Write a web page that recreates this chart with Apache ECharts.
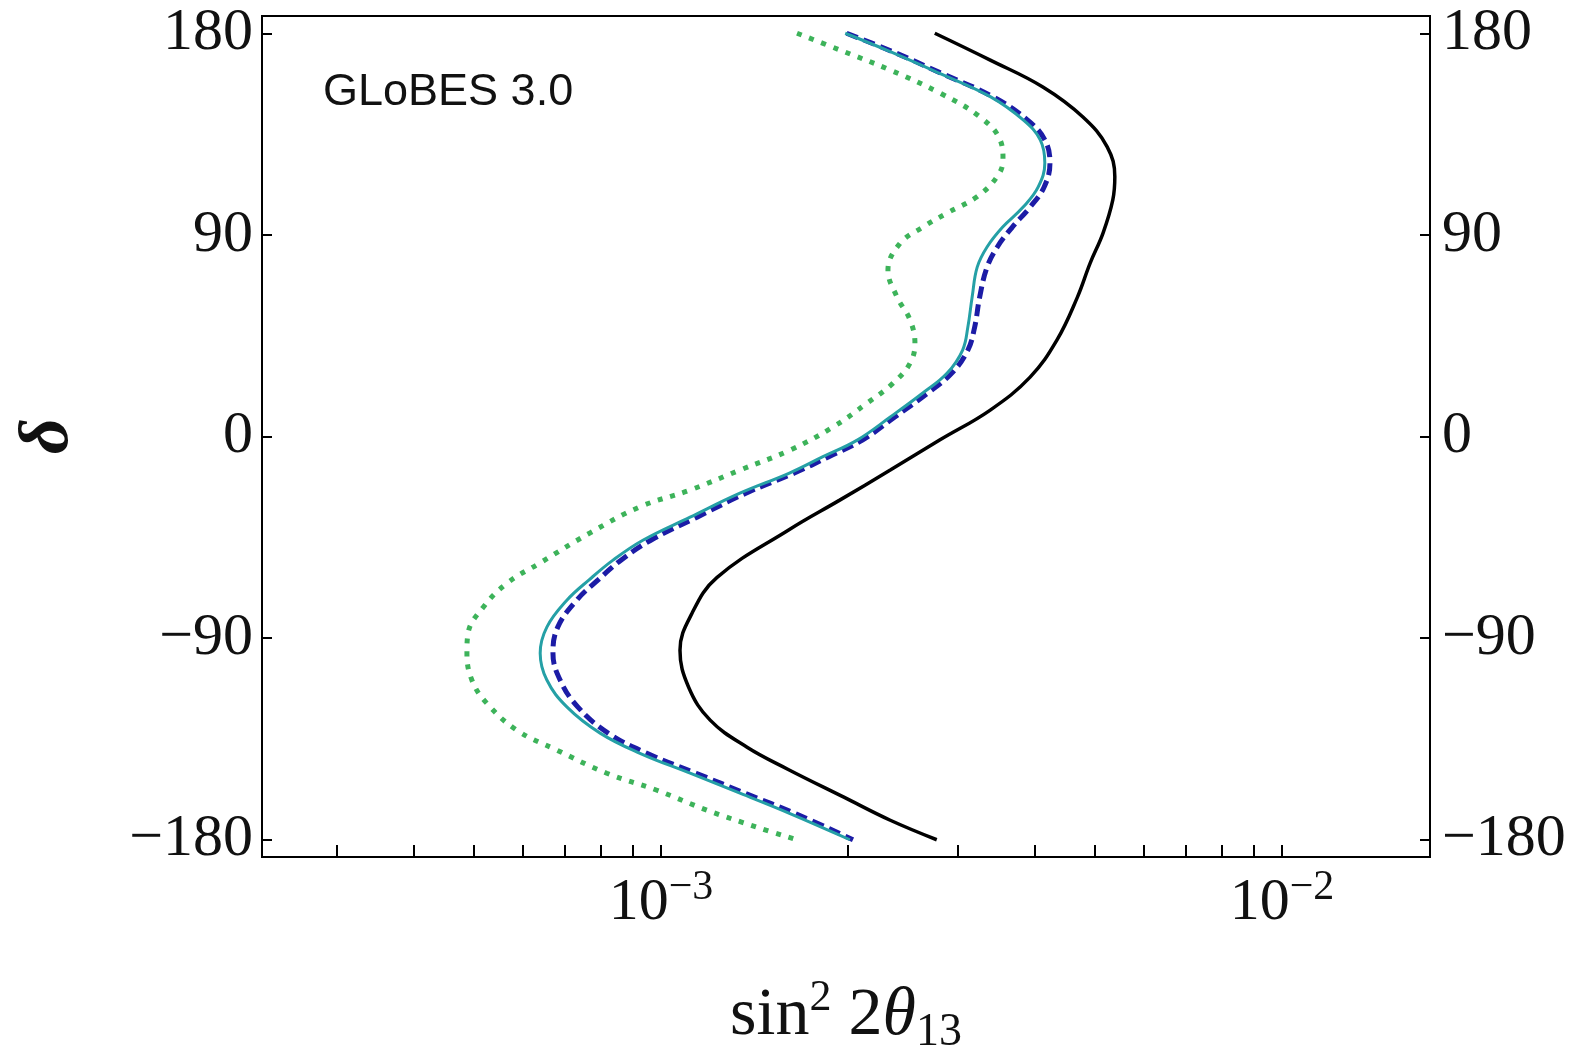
<!DOCTYPE html>
<html>
<head>
<meta charset="utf-8">
<script src="https://cdn.jsdelivr.net/npm/echarts@6/dist/echarts.min.js"></script>
<style>
  html, body { margin: 0; padding: 0; background: #fff; }
  #chart { width: 1584px; height: 1050px; }
</style>
</head>
<body>
<div id="chart"></div>
<script>
// CP-phase delta (degrees) versus sin^2(2 theta13) sensitivity curves
const deltaBlack = [180, 168, 156, 142.6, 129.3, 115.9, 105.6, 90.8, 77.4, 62, 43, 26.5, 11.8, -1.6, -15, -28.4, -41.5, -63, -78.9, -95.4, -111.9, -126.6, -138.7, -148.5, -161, -171.3, -180];
const s2tBlack = [2.76e-3, 3.39e-3, 4.12e-3, 4.78e-3, 5.23e-3, 5.38e-3, 5.34e-3, 5.15e-3, 4.91e-3, 4.68e-3, 4.34e-3, 3.93e-3, 3.39e-3, 2.81e-3, 2.34e-3, 1.94e-3, 1.61e-3, 1.23e-3, 1.122e-3, 1.073e-3, 1.108e-3, 1.20e-3, 1.376e-3, 1.60e-3, 1.97e-3, 2.34e-3, 2.78e-3];

const deltaTeal = [180, 171.8, 162.1, 151.7, 141.3, 132.4, 122.1, 111.4, 102.4, 93.5, 84.6, 75.6, 62.3, 48.9, 38.6, 28.3, 19.4, 8.7, -1.6, -9.1, -16.3, -25.3, -36, -46.3, -55.2, -64, -73, -85.1, -96.7, -108.7, -120.8, -132.4, -141.4, -150.3, -159.2, -168.2, -180];
const s2tTeal = [1.98e-3, 2.34e-3, 2.81e-3, 3.39e-3, 3.83e-3, 4.08e-3, 4.15e-3, 4.05e-3, 3.83e-3, 3.55e-3, 3.35e-3, 3.23e-3, 3.17e-3, 3.12e-3, 3.06e-3, 2.89e-3, 2.64e-3, 2.34e-3, 2.07e-3, 1.82e-3, 1.61e-3, 1.34e-3, 1.114e-3, 0.935e-3, 0.837e-3, 0.766e-3, 0.706e-3, 0.655e-3, 0.639e-3, 0.655e-3, 0.706e-3, 0.798e-3, 0.925e-3, 1.114e-3, 1.34e-3, 1.61e-3, 2.015e-3];

const deltaBlue = deltaTeal;
const s2tBlue = [1.99e-3, 2.36e-3, 2.83e-3, 3.42e-3, 3.89e-3, 4.15e-3, 4.23e-3, 4.14e-3, 3.93e-3, 3.68e-3, 3.48e-3, 3.35e-3, 3.26e-3, 3.20e-3, 3.12e-3, 2.94e-3, 2.69e-3, 2.38e-3, 2.11e-3, 1.86e-3, 1.64e-3, 1.37e-3, 1.143e-3, 0.963e-3, 0.862e-3, 0.792e-3, 0.732e-3, 0.682e-3, 0.670e-3, 0.688e-3, 0.735e-3, 0.822e-3, 0.949e-3, 1.139e-3, 1.365e-3, 1.643e-3, 2.038e-3];

const deltaGreen = [180, 172.5, 163.6, 153.3, 142.6, 132.4, 123.5, 115.9, 107, 99.7, 93.5, 86.2, 74.3, 62.3, 52, 41.6, 32.7, 23.8, 14.9, 4.2, -6.1, -15, -23.9, -31.4, -43, -56.4, -65.5, -76.3, -87.9, -96.7, -108.7, -119, -131.1, -140, -150.3, -157.9, -166.8, -174.4, -180];
const s2tGreen = [1.656e-3, 1.942e-3, 2.338e-3, 2.813e-3, 3.264e-3, 3.516e-3, 3.554e-3, 3.476e-3, 3.227e-3, 2.887e-3, 2.642e-3, 2.426e-3, 2.320e-3, 2.399e-3, 2.518e-3, 2.564e-3, 2.518e-3, 2.364e-3, 2.147e-3, 1.892e-3, 1.613e-3, 1.340e-3, 1.114e-3, 0.925e-3, 0.769e-3, 0.639e-3, 0.565e-3, 0.517e-3, 0.489e-3, 0.487e-3, 0.496e-3, 0.524e-3, 0.586e-3, 0.680e-3, 0.818e-3, 0.985e-3, 1.186e-3, 1.428e-3, 1.656e-3];

// axis ranges and ticks
const xMin = 2.278e-4, xMax = 1.731e-2;
const yMin = -187.7, yMax = 187.7;
const deltaTicks = [-180, -90, 0, 90, 180];
const xMajorTicks = [1e-3, 1e-2];
const xAllTicks = [3e-4, 4e-4, 5e-4, 6e-4, 7e-4, 8e-4, 9e-4, 1e-3, 2e-3, 3e-3, 4e-3, 5e-3, 6e-3, 7e-3, 8e-3, 9e-3, 1e-2];

const serif = '"Liberation Serif", "DejaVu Serif", serif';
const pair = (xs, ys) => xs.map((x, i) => [x, ys[i]]);
const minus = v => (v < 0 ? '\u2212' + Math.abs(v) : String(v));
const SMOOTH = 0.4;

const chart = echarts.init(document.getElementById('chart'), null, { renderer: 'canvas' });

const yAxisCommon = {
  type: 'value', min: yMin, max: yMax,
  axisLine: { show: false, onZero: false },
  splitLine: { show: false },
  axisTick: { show: true, inside: true, length: 10, customValues: deltaTicks, lineStyle: { color: '#000', width: 2 } },
  axisLabel: { show: true, customValues: deltaTicks, formatter: minus, fontFamily: serif, fontSize: 60, color: '#111' }
};

chart.setOption({
  animation: false,
  backgroundColor: '#fff',
  grid: { left: 262, right: 154, top: 16, bottom: 193, show: true, borderColor: '#000', borderWidth: 2, backgroundColor: 'transparent' },
  xAxis: [
    {
      type: 'log', logBase: 10, min: xMin, max: xMax, position: 'bottom',
      axisLine: { show: false, onZero: false }, axisTick: { show: false }, axisLabel: { show: false }, splitLine: { show: false }
    },
    {
      type: 'value', min: Math.log10(xMin), max: Math.log10(xMax), position: 'bottom',
      axisLine: { show: false, onZero: false }, splitLine: { show: false },
      axisTick: { show: true, inside: true, length: 12, customValues: xAllTicks.map(Math.log10), lineStyle: { color: '#000', width: 2 } },
      axisLabel: {
        show: true, margin: 10,
        customValues: xMajorTicks.map(Math.log10),
        formatter: v => '{b|10}{s|' + minus(Math.round(v)) + '}',
        rich: {
          b: { fontFamily: serif, fontSize: 60, color: '#111', lineHeight: 66, verticalAlign: 'bottom' },
          s: { fontFamily: serif, fontSize: 42, color: '#111', lineHeight: 42, verticalAlign: 'top' }
        }
      }
    }
  ],
  yAxis: [
    Object.assign({}, yAxisCommon, { position: 'left', axisLabel: Object.assign({}, yAxisCommon.axisLabel, { margin: 9 }) }),
    Object.assign({}, yAxisCommon, { position: 'right', axisLabel: Object.assign({}, yAxisCommon.axisLabel, { margin: 12 }) })
  ],
  series: [
    {
      name: 'black', type: 'line', xAxisIndex: 0, yAxisIndex: 0, smooth: SMOOTH, symbol: 'none',
      data: pair(s2tBlack, deltaBlack),
      lineStyle: { color: '#000', width: 3.5 }
    },
    {
      name: 'green', type: 'line', xAxisIndex: 0, yAxisIndex: 0, smooth: SMOOTH, symbol: 'none',
      data: pair(s2tGreen, deltaGreen),
      lineStyle: { color: '#3db35a', width: 5, type: [5, 8] }
    },
    {
      name: 'blue', type: 'line', xAxisIndex: 0, yAxisIndex: 0, smooth: SMOOTH, symbol: 'none',
      data: pair(s2tBlue, deltaBlue),
      lineStyle: { color: '#1c1ca6', width: 5, type: [12, 6] }
    },
    {
      name: 'teal', type: 'line', xAxisIndex: 0, yAxisIndex: 0, smooth: SMOOTH, symbol: 'none',
      data: pair(s2tTeal, deltaTeal),
      lineStyle: { color: '#25a0a6', width: 3 }
    }
  ],
  graphic: [
    {
      type: 'text', left: 323, top: 70, z: 10,
      style: { text: 'GLoBES 3.0', fontFamily: '"Liberation Sans", Arial, sans-serif', fontSize: 45, fill: '#111' }
    },
    {
      type: 'text', x: 49, y: 436, rotation: Math.PI / 2, z: 10,
      style: { text: '\u03b4', fontFamily: serif, fontStyle: 'italic', fontWeight: 'bold', fontSize: 70, fill: '#111', align: 'center', verticalAlign: 'middle' }
    },
    {
      type: 'text', x: 846, y: 1056, z: 10,
      style: {
        text: '{m|sin}{p|2}{m| 2}{t|\u03b8}{d|13}',
        align: 'center', verticalAlign: 'bottom',
        rich: {
          m: { fontFamily: serif, fontSize: 68, fill: '#111', lineHeight: 80, verticalAlign: 'middle' },
          t: { fontFamily: serif, fontStyle: 'italic', fontSize: 68, fill: '#111', lineHeight: 80, verticalAlign: 'middle' },
          p: { fontFamily: serif, fontSize: 44, fill: '#111', lineHeight: 44, verticalAlign: 'top' },
          d: { fontFamily: serif, fontSize: 46, fill: '#111', lineHeight: 46, verticalAlign: 'bottom' }
        }
      }
    }
  ]
});
</script>
</body>
</html>
